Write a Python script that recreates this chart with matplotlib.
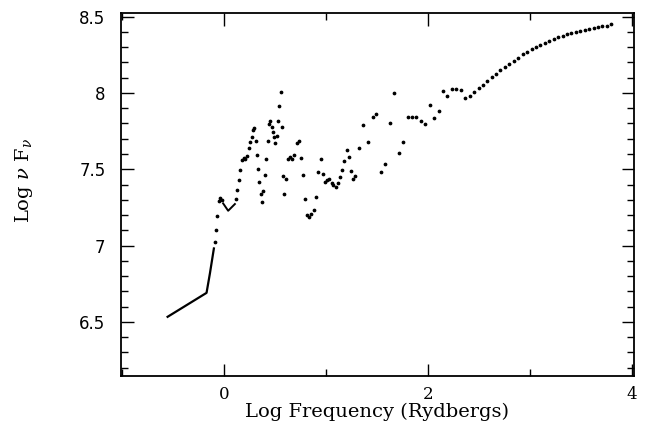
import numpy as np
import matplotlib
matplotlib.use('Agg')
import matplotlib.pyplot as plt
from matplotlib.ticker import MultipleLocator

# solid part of the spectrum (low frequencies)
line_x = [-0.552, -0.170, -0.137, -0.098]
line_y = [6.533, 6.690, 6.817, 6.981]

# short "V" segment just above 0
v_x = [-0.007, 0.042, 0.108]
v_y = [7.276, 7.228, 7.272]

# dotted part
dot_x = [-0.091, -0.078, -0.066, -0.052, -0.039, -0.023, 0.118, 0.130, 0.144, 0.157,
         0.174, 0.193, 0.209, 0.228, 0.248, 0.258, 0.272, 0.281, 0.297, 0.311,
         0.324, 0.336, 0.346, 0.360, 0.373, 0.385, 0.399, 0.415, 0.431, 0.441,
         0.454, 0.468, 0.480, 0.490, 0.503, 0.520, 0.532, 0.542, 0.556, 0.569,
         0.578, 0.591, 0.608, 0.630, 0.650, 0.670, 0.689, 0.719, 0.735, 0.758,
         0.777, 0.797, 0.817, 0.836, 0.856, 0.882, 0.905, 0.928, 0.948, 0.968,
         0.990, 1.013, 1.032, 1.056, 1.075, 1.095, 1.118, 1.140, 1.160, 1.183,
         1.206, 1.225, 1.245, 1.268, 1.287, 1.326, 1.366, 1.412, 1.461, 1.493,
         1.539, 1.585, 1.630, 1.670, 1.713, 1.758, 1.804, 1.846, 1.889, 1.931,
         1.974, 2.020, 2.059, 2.108, 2.150, 2.193, 2.237, 2.279, 2.321, 2.366,
         2.412, 2.454, 2.500, 2.542, 2.585, 2.627, 2.670, 2.713, 2.755, 2.801,
         2.843, 2.889, 2.931, 2.974, 3.020, 3.062, 3.105, 3.147, 3.193, 3.235,
         3.281, 3.324, 3.366, 3.409, 3.454, 3.497, 3.539, 3.581, 3.627, 3.670,
         3.713, 3.758, 3.801]
dot_y = [7.021, 7.103, 7.193, 7.291, 7.313, 7.298, 7.303, 7.364, 7.427, 7.495,
         7.560, 7.575, 7.565, 7.587, 7.637, 7.678, 7.713, 7.757, 7.772, 7.685,
         7.591, 7.499, 7.414, 7.335, 7.287, 7.359, 7.460, 7.569, 7.683, 7.796,
         7.818, 7.779, 7.744, 7.709, 7.674, 7.718, 7.814, 7.914, 8.004, 7.779,
         7.455, 7.335, 7.438, 7.565, 7.582, 7.569, 7.591, 7.670, 7.687, 7.575,
         7.462, 7.303, 7.200, 7.185, 7.206, 7.232, 7.321, 7.482, 7.569, 7.469,
         7.418, 7.429, 7.434, 7.411, 7.394, 7.381, 7.408, 7.447, 7.493, 7.556,
         7.626, 7.578, 7.490, 7.436, 7.453, 7.641, 7.788, 7.680, 7.844, 7.862,
         7.484, 7.536, 7.803, 7.998, 7.604, 7.678, 7.844, 7.844, 7.840, 7.814,
         7.798, 7.923, 7.834, 7.880, 8.011, 7.977, 8.027, 8.024, 8.017, 7.967,
         7.980, 8.004, 8.030, 8.054, 8.078, 8.103, 8.126, 8.150, 8.170, 8.192,
         8.211, 8.231, 8.253, 8.269, 8.286, 8.301, 8.316, 8.330, 8.343, 8.354,
         8.365, 8.375, 8.385, 8.391, 8.398, 8.404, 8.411, 8.417, 8.424, 8.430,
         8.437, 8.441, 8.450]

plt.rcParams['mathtext.fontset'] = 'dejavuserif'

fig = plt.figure(figsize=(6.5, 4.33), dpi=100)
ax = fig.add_axes([0.186, 0.1316, 0.789, 0.8391])

ax.plot(line_x, line_y, color='black', linewidth=1.6)
ax.plot(v_x, v_y, color='black', linewidth=1.4)
ax.plot(dot_x, dot_y, linestyle='none', marker='o', markersize=1.7, color='black')

ax.set_xlim(-1.01, 4.02)
ax.set_ylim(6.145, 8.526)

ax.xaxis.set_major_locator(MultipleLocator(2))
ax.xaxis.set_minor_locator(MultipleLocator(1))
ax.yaxis.set_major_locator(MultipleLocator(0.5))
ax.yaxis.set_minor_locator(MultipleLocator(0.1))
ax.set_yticks([6.5, 7, 7.5, 8, 8.5])
ax.set_yticklabels(['6.5', '7', '7.5', '8', '8.5'])

ax.tick_params(which='both', direction='in', top=True, right=True, width=1, color='black')
ax.tick_params(which='major', length=9)
ax.tick_params(which='minor', length=5)
ax.tick_params(axis='y', labelsize=12, pad=11)
ax.tick_params(axis='x', labelsize=12, pad=7)
for lab in ax.get_xticklabels():
    lab.set_family('DejaVu Serif')
for lab in ax.get_yticklabels():
    lab.set_family('DejaVu Sans')

for s in ax.spines.values():
    s.set_linewidth(1.3)

ax.set_xlabel('Log Frequency (Rydbergs)', family='DejaVu Serif', fontsize=14, labelpad=0)
ax.set_ylabel(r'Log $\nu$ F$_\nu$', family='DejaVu Serif', fontsize=14)
ax.yaxis.set_label_coords(-0.168, 0.537)

fig.savefig('out.png', dpi=100)
